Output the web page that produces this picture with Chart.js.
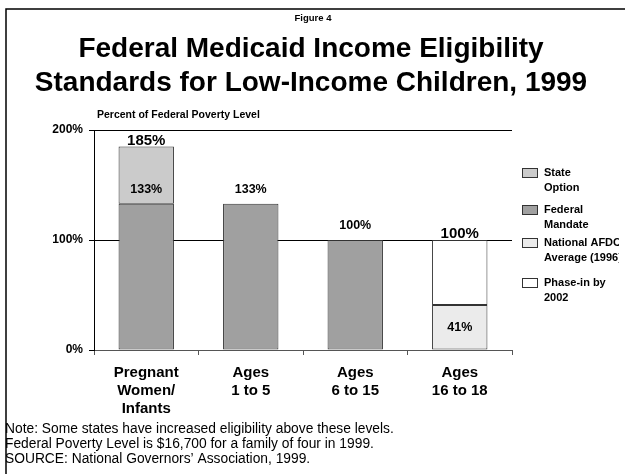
<!DOCTYPE html>
<html>
<head>
<meta charset="utf-8">
<script src="https://cdn.jsdelivr.net/npm/chart.js@4.4.0/dist/chart.umd.min.js"></script>
<style>
  html, body { margin: 0; padding: 0; background: #fff; }
  #wrap { position: relative; width: 625px; height: 474px; }
</style>
</head>
<body>
<div id="wrap"><canvas id="eligChart" width="625" height="474"></canvas></div>
<script>
// eligibility levels, percent of federal poverty level
const categories = [['Pregnant', 'Women/', 'Infants'], ['Ages', '1 to 5'], ['Ages', '6 to 15'], ['Ages', '16 to 18']];
const federalMandate = [133, 133, 100, null];
const stateOption = [52, null, null, null];
const afdcAverage = [null, null, null, 41];
const phaseIn = [null, null, null, 59];
const yTicks = [0, 100, 200];

const seriesNames = [['Federal', 'Mandate'], ['State', 'Option'], ['National AFDC', 'Average (1996)'], ['Phase-in by', '2002']];
const seriesColors = ['#a0a0a0', '#cbcbcb', '#ebebeb', '#ffffff'];

const titleLines = ['Federal Medicaid Income Eligibility', 'Standards for Low-Income Children, 1999'];
const noteLines = [
  'Note: Some states have increased eligibility above these levels.',
  'Federal Poverty Level is $16,700 for a family of four in 1999.',
  'SOURCE: National Governors\u2019 Association, 1999.'
];

const FONT = "'Liberation Sans', Arial, Helvetica, sans-serif";
Chart.defaults.font.family = FONT;
Chart.defaults.color = '#000';

// value labels: federal level over its segment, AFDC inside, totals on stacked bars
const barLabels = {
  id: 'barLabels',
  afterDatasetsDraw(chart) {
    const c = chart.ctx;
    const y = chart.scales.y;
    const fed = chart.getDatasetMeta(0).data;
    const afdc = chart.getDatasetMeta(2).data;
    c.save();
    c.fillStyle = '#000';
    c.textAlign = 'center';
    categories.forEach((cat, i) => {
      const x = fed[i].x;
      c.font = 'bold 12.5px ' + FONT;
      c.textBaseline = 'middle';
      if (federalMandate[i] != null) {
        c.fillText(federalMandate[i] + '%', x, fed[i].y - 14);
      }
      if (afdcAverage[i] != null) {
        c.fillText(afdcAverage[i] + '%', x, (afdc[i].y + afdc[i].base) / 2);
      }
      const parts = [federalMandate[i], stateOption[i], afdcAverage[i], phaseIn[i]].filter(v => v != null);
      if (parts.length > 1) {
        const total = parts.reduce((a, b) => a + b, 0);
        c.font = 'bold 15px ' + FONT;
        c.textBaseline = 'alphabetic';
        c.fillText(total + '%', x, y.getPixelForValue(total) - 2);
      }
    });
    c.restore();
  }
};

// frame, headings, notes and the side legend
const pageDecor = {
  id: 'pageDecor',
  afterDraw(chart) {
    const c = chart.ctx;
    c.save();
    c.strokeStyle = '#000';
    c.lineWidth = 1.5;
    c.beginPath();
    c.moveTo(6, 474);
    c.lineTo(6, 9);
    c.lineTo(625, 9);
    c.stroke();

    c.fillStyle = '#000';
    c.textAlign = 'center';
    c.textBaseline = 'alphabetic';
    c.font = 'bold 9.5px ' + FONT;
    c.fillText('Figure 4', 313, 21);
    c.font = 'bold 28px ' + FONT;
    c.fillText(titleLines[0], 311, 57);
    c.fillText(titleLines[1], 311, 91);

    c.textAlign = 'left';
    c.font = 'bold 10.5px ' + FONT;
    c.fillText('Percent of Federal Poverty Level', 97, 118);

    c.font = '13.8px ' + FONT;
    noteLines.forEach((t, i) => c.fillText(t, 5, 433 + i * 15));

    // legend, State Option listed first
    const order = [1, 0, 2, 3];
    const tops = [168, 205, 238, 278];
    c.beginPath();
    c.rect(0, 0, 619, 474);
    c.clip();
    c.font = 'bold 11px ' + FONT;
    c.lineWidth = 1;
    order.forEach((d, k) => {
      const ds = chart.data.datasets[d];
      c.fillStyle = ds.backgroundColor;
      c.fillRect(522, tops[k], 15, 9);
      c.strokeStyle = '#333';
      c.strokeRect(522.5, tops[k] + 0.5, 15, 9);
      c.fillStyle = '#000';
      c.textBaseline = 'top';
      seriesNames[d].forEach((line, j) => c.fillText(line, 544, tops[k] - 1 + j * 15));
    });
    c.restore();
  }
};

const datasets = [federalMandate, stateOption, afdcAverage, phaseIn].map((vals, i) => ({
  label: seriesNames[i].join(' '),
  data: vals,
  backgroundColor: seriesColors[i]
}));

new Chart(document.getElementById('eligChart'), {
  type: 'bar',
  data: { labels: categories, datasets: datasets },
  options: {
    responsive: false,
    animation: false,
    layout: { padding: { top: 130, right: 113, left: 0, bottom: 0 } },
    datasets: {
      bar: {
        categoryPercentage: 1,
        barPercentage: 0.53,
        borderWidth: 1,
        borderColor: '#333',
        borderSkipped: false
      }
    },
    plugins: { legend: { display: false }, tooltip: { enabled: false } },
    scales: {
      x: {
        stacked: true,
        grid: { offset: true, drawOnChartArea: false, color: '#555', tickLength: 5 },
        border: { color: '#555' },
        ticks: { font: { size: 15, weight: 'bold', lineHeight: 1.2 }, padding: 9, color: '#000' },
        afterFit: s => { s.height = 124; }
      },
      y: {
        stacked: true,
        min: 0,
        max: 200,
        afterBuildTicks: s => { s.ticks = yTicks.map(v => ({ value: v })); },
        ticks: { callback: v => v + '%', font: { size: 12, weight: 'bold' }, padding: 6, color: '#000' },
        grid: { color: '#000', tickLength: 5 },
        border: { color: '#000' },
        afterFit: s => { s.width = 94; }
      }
    }
  },
  plugins: [barLabels, pageDecor]
});
</script>
</body>
</html>
